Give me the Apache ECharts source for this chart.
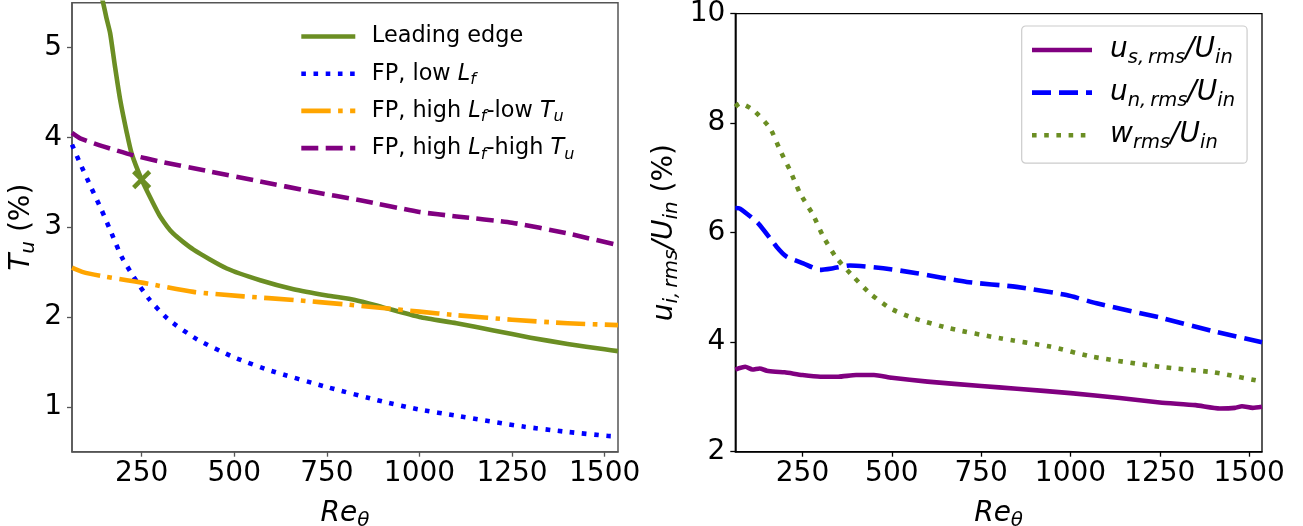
<!DOCTYPE html>
<html><head><meta charset="utf-8">
<script src="https://cdn.jsdelivr.net/npm/echarts@6/dist/echarts.min.js"></script>
<style>html,body{margin:0;padding:0;background:#fff}#c{width:1303px;height:526px}</style>
</head><body><div id="c"></div>
<script>
// ---------- data ----------
const xTicks = [250, 500, 750, 1000, 1250, 1500];
const leftYTicks = [1, 2, 3, 4, 5];
const rightYTicks = [2, 4, 6, 8, 10];

// Left panel: T_u (%) vs Re_theta
const leRe = [140, 146, 155, 165, 178, 192, 210, 223, 250, 277, 300, 335, 390, 480, 570, 660, 750, 826, 900, 1000, 1100, 1200, 1300, 1400, 1500, 1536];
const leTu = [5.6, 5.5, 5.33, 5.16, 4.79, 4.42, 4.05, 3.82, 3.53, 3.30, 3.12, 2.93, 2.75, 2.54, 2.41, 2.31, 2.24, 2.19, 2.11, 2.0, 1.93, 1.85, 1.77, 1.70, 1.64, 1.62];
const lowRe = [62, 84, 115, 142, 169, 196, 228, 268, 320, 400, 500, 600, 750, 900, 1000, 1100, 1280, 1400, 1510, 1536];
const lowTu = [3.92, 3.71, 3.43, 3.19, 2.93, 2.67, 2.45, 2.21, 1.98, 1.75, 1.55, 1.40, 1.22, 1.06, 0.97, 0.90, 0.78, 0.72, 0.675, 0.67];
const hlRe = [62, 92, 150, 210, 255, 390, 525, 660, 800, 900, 1000, 1100, 1250, 1400, 1536];
const hlTu = [2.55, 2.50, 2.45, 2.41, 2.38, 2.28, 2.23, 2.19, 2.14, 2.10, 2.06, 2.02, 1.97, 1.93, 1.91];
const hhRe = [62, 84, 146, 228, 300, 435, 570, 705, 840, 1000, 1100, 1250, 1400, 1536];
const hhTu = [4.05, 3.99, 3.90, 3.80, 3.73, 3.62, 3.51, 3.40, 3.30, 3.17, 3.12, 3.05, 2.93, 2.80];
const markRe = [250];
const markTu = [3.53];

// Right panel: u_i,rms/U_in (%) vs Re_theta
const usRe = [62, 90, 110, 130, 150, 175, 200, 250, 300, 350, 400, 450, 500, 600, 750, 850, 1000, 1138, 1250, 1350, 1418, 1460, 1480, 1510, 1536];
const usV = [3.5, 3.55, 3.5, 3.52, 3.48, 3.46, 3.45, 3.4, 3.37, 3.37, 3.4, 3.4, 3.35, 3.28, 3.2, 3.15, 3.07, 2.98, 2.9, 2.85, 2.79, 2.8, 2.83, 2.8, 2.82];
const unRe = [62, 75, 126, 178, 206, 252, 299, 336, 383, 476, 570, 710, 849, 989, 1073, 1250, 1400, 1536];
const unV = [6.45, 6.44, 6.17, 5.74, 5.56, 5.44, 5.32, 5.35, 5.40, 5.35, 5.26, 5.10, 5.01, 4.86, 4.71, 4.45, 4.2, 4.0];
const wRe = [62, 75, 112, 159, 187, 215, 243, 280, 308, 346, 392, 439, 495, 560, 663, 803, 943, 1064, 1250, 1400, 1536];
const wV = [8.3, 8.36, 8.24, 7.91, 7.51, 7.14, 6.72, 6.32, 5.93, 5.53, 5.20, 4.89, 4.62, 4.44, 4.25, 4.07, 3.92, 3.73, 3.55, 3.45, 3.28];

const leftNames = ['Leading edge', 'FP, low Lf', 'FP, high Lf-low Tu', 'FP, high Lf-high Tu'];
const rightNames = ['us', 'un', 'w'];

// ---------- helpers ----------
const F = 'DejaVu Sans';
const pairs = (xs, ys) => xs.map((x, i) => [x, ys[i]]);
function rich(size, lh, sub, subH, gap) {
  return {
    n: {fontFamily: F, fontSize: size, lineHeight: lh, color: '#000'},
    i: {fontFamily: F, fontSize: size, lineHeight: lh, fontStyle: 'italic', color: '#000'},
    s: {fontFamily: F, fontSize: sub, height: subH, lineHeight: subH, fontStyle: 'italic', verticalAlign: 'bottom', color: '#000'},
    g: {width: gap || 0, lineHeight: lh, fontSize: size}
  };
}
const TS = '\u2009';
const leftLegendText = {
  'Leading edge': '{g|}{n|Leading edge}{s| }',
  'FP, low Lf': '{g|}{n|FP, low }{i|L}{s|f}',
  'FP, high Lf-low Tu': '{g|}{n|FP, high }{i|L}{s|f}{n|-low }{i|T}{s|u}',
  'FP, high Lf-high Tu': '{g|}{n|FP, high }{i|L}{s|f}{n|-high }{i|T}{s|u}'
};
const rightLegendText = {
  'us': '{g|}{i|u}{s|s,' + TS + 'rms}{i|/U}{s|in}',
  'un': '{g|}{i|u}{s|n,' + TS + 'rms}{i|/U}{s|in}',
  'w': '{g|}{i|w}{s|rms}{i|/U}{s|in}'
};

const LW = 4.6;
const GREEN = '#6b8e23', BLUE = '#0000ff', ORANGE = '#ffa500', PURPLE = '#800080';
const DOT = [4.6, 7.6], DASH = [17, 7.4], DASHDOT = [29.4, 7.4, 4.6, 7.4];
const plain = v => String(v);

function xAxis(gi, col) {
  return {
    type: 'value', gridIndex: gi, min: 62, max: 1536,
    name: '{i|Re}{s|θ}', nameLocation: 'middle', nameGap: 46,
    nameTextStyle: {rich: rich(28, 32, 20, 18)},
    axisLine: {show: true, lineStyle: {color: col, width: 1.5}},
    axisTick: {show: true, length: 5, customValues: xTicks, lineStyle: {color: col, width: 1.3}},
    axisLabel: {customValues: xTicks, formatter: plain, fontFamily: F, fontSize: 28, color: '#000', margin: 8},
    splitLine: {show: false}
  };
}
function yAxis(gi, col, min, max, ticks, name, gap) {
  return {
    type: 'value', gridIndex: gi, min: min, max: max,
    name: name, nameLocation: 'middle', nameGap: gap,
    nameTextStyle: {rich: rich(28, 32, 20, 18)},
    axisLine: {show: true, lineStyle: {color: col, width: 1.5}},
    axisTick: {show: true, length: 5, customValues: ticks, lineStyle: {color: col, width: 1.3}},
    axisLabel: {customValues: ticks, formatter: plain, fontFamily: F, fontSize: 28, color: '#000', margin: 10},
    splitLine: {show: false}
  };
}
function line(name, xs, ys, color, type, ax) {
  return {
    type: 'line', name: name, xAxisIndex: ax, yAxisIndex: ax,
    data: pairs(xs, ys), symbol: 'none', showSymbol: false,
    smooth: 0.2,
    lineStyle: {color: color, width: LW, type: type, cap: 'butt', join: 'round'},
    itemStyle: {color: color}, z: 3
  };
}

const chart = echarts.init(document.getElementById('c'), null, {renderer: 'canvas'});
chart.setOption({
  animation: false,
  backgroundColor: '#fff',
  grid: [
    {left: 72, top: 2.7, width: 546, height: 449, show: true, borderColor: '#555', borderWidth: 1.5, outerBoundsMode: 'none'},
    {left: 735.3, top: 13.6, width: 526.7, height: 438.1, show: true, borderColor: '#000', borderWidth: 1.3, outerBoundsMode: 'none'}
  ],
  xAxis: [xAxis(0, '#555'), xAxis(1, '#000')],
  yAxis: [
    yAxis(0, '#555', 0.5, 5.5, leftYTicks, '{i|T}{s|u}{n| (%)}', 34),
    yAxis(1, '#000', 2, 10, rightYTicks, '{i|u}{s|i,' + TS + 'rms}{i|/U}{s|in}{n| (%)}', 55)
  ],
  legend: [
    {
      data: leftNames, orient: 'vertical', left: 299, top: 21.5, padding: 0,
      itemWidth: 54, itemHeight: 14, itemGap: 7.2,
      itemStyle: {color: 'rgba(0,0,0,0)', borderColor: 'rgba(0,0,0,0)', borderWidth: 0, opacity: 0},
      lineStyle: {width: LW},
      formatter: n => leftLegendText[n],
      textStyle: {lineHeight: 30, rich: rich(22.4, 30, 16, 17.4, 11.5)},
      selectedMode: false
    },
    {
      data: rightNames, orient: 'vertical', left: 1021.7, top: 26, padding: [7, 12, 10, 8],
      itemWidth: 60, itemHeight: 14, itemGap: 7.6,
      borderColor: '#cccccc', borderWidth: 1.2, borderRadius: 4, backgroundColor: '#fff',
      itemStyle: {color: 'rgba(0,0,0,0)', borderColor: 'rgba(0,0,0,0)', borderWidth: 0, opacity: 0},
      lineStyle: {width: LW},
      formatter: n => rightLegendText[n],
      textStyle: {lineHeight: 34, rich: rich(28, 34, 19.5, 18, 13)},
      selectedMode: false
    }
  ],
  series: [
    line('Leading edge', leRe, leTu, GREEN, 'solid', 0),
    line('FP, low Lf', lowRe, lowTu, BLUE, DOT, 0),
    line('FP, high Lf-low Tu', hlRe, hlTu, ORANGE, DASHDOT, 0),
    line('FP, high Lf-high Tu', hhRe, hhTu, PURPLE, DASH, 0),
    {
      type: 'scatter', name: 'marker', xAxisIndex: 0, yAxisIndex: 0,
      data: pairs(markRe, markTu),
      symbol: 'path://M0 0L10 10M10 0L0 10', symbolSize: 16,
      itemStyle: {color: 'rgba(0,0,0,0)', borderColor: GREEN, borderWidth: 4.5, opacity: 1}, z: 5
    },
    line('us', usRe, usV, PURPLE, 'solid', 1),
    line('un', unRe, unV, BLUE, [19, 8], 1),
    line('w', wRe, wV, GREEN, DOT, 1)
  ]
});
</script>
</body></html>
